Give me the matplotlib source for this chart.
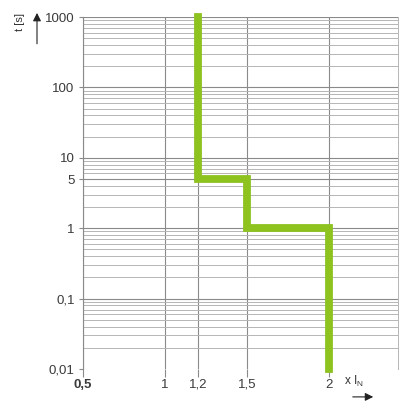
import numpy as np
import matplotlib.pyplot as plt
from matplotlib.ticker import FixedLocator, LogLocator, NullFormatter

plt.rcParams['font.family'] = ['Liberation Sans', 'DejaVu Sans']

# tripping curve (multiple of I_N vs time in s)
curve_x = [1.2, 1.2, 1.5, 1.5, 2.0, 2.0]
curve_t = [1000, 5, 5, 1, 1, 0.01]

x_ticks = [0.5, 1, 1.2, 1.5, 2]
x_labels = ['0,5', '1', '1,2', '1,5', '2']
y_ticks = [0.01, 0.1, 1, 5, 10, 100, 1000]
y_labels = ['0,01', '0,1', '1', '5', '10', '100', '1000']

fig = plt.figure(figsize=(4, 4.05), dpi=100)
ax = fig.add_axes([0.2075, 0.0889, 0.7875, 0.869])

ax.set_yscale('log')
ax.set_xlim(0.5, 2.42)
ax.set_ylim(0.01, 1000)

ax.xaxis.set_major_locator(FixedLocator(x_ticks))
ax.set_xticklabels(x_labels)
ax.yaxis.set_major_locator(FixedLocator(y_ticks))
ax.set_yticklabels(y_labels)
ax.yaxis.set_minor_locator(LogLocator(base=10, subs=np.arange(2, 10)))
ax.yaxis.set_minor_formatter(NullFormatter())

ax.grid(True, which='major', axis='y', color='#8a8a8a', lw=0.8)
ax.grid(True, which='minor', axis='y', color='#b5b5b5', lw=0.7)
ax.grid(True, which='major', axis='x', color='#8a8a8a', lw=0.8)
# no horizontal line at the bottom value
ax.get_ygridlines()[0].set_visible(False)

for s in ['top', 'bottom']:
    ax.spines[s].set_visible(False)
ax.spines['left'].set_color('#8a8a8a')
ax.spines['left'].set_linewidth(0.8)
ax.spines['right'].set_color('#b5b5b5')
ax.spines['right'].set_linewidth(0.7)

ax.tick_params(axis='x', which='major', direction='out', length=6, width=0.8,
               color='#8a8a8a', labelsize=9.5, labelcolor='#3a3a3a', pad=1)
ax.tick_params(axis='y', which='major', direction='out', length=3, width=0.8,
               color='#8a8a8a', labelsize=9.5, labelcolor='#3a3a3a', pad=3)
ax.tick_params(axis='y', which='minor', length=0)
ax.get_xticklabels()[0].set_fontweight('bold')

ax.plot(curve_x, curve_t, color='#8dc21f', lw=5.6,
        solid_joinstyle='miter', solid_capstyle='projecting', zorder=5, clip_on=False)

# axis captions with arrows
fig.text(0.05, 0.945, 't [s]', rotation=90, ha='center', va='center',
         fontsize=8, color='#333333')
fig.add_artist(plt.Annotation('', xy=(0.0925, 0.975), xytext=(0.0925, 0.885),
                              xycoords='figure fraction',
                              arrowprops=dict(arrowstyle='-|>', color='#222222',
                                              lw=0.8, mutation_scale=12)))
fig.text(0.885, 0.058, r'x I$_\mathregular{N}$', ha='center', va='center',
         fontsize=8.5, color='#333333')
fig.add_artist(plt.Annotation('', xy=(0.94, 0.02), xytext=(0.875, 0.02),
                              xycoords='figure fraction',
                              arrowprops=dict(arrowstyle='-|>', color='#222222',
                                              lw=0.8, mutation_scale=12)))

fig.savefig('out.png', dpi=100, facecolor='white')
